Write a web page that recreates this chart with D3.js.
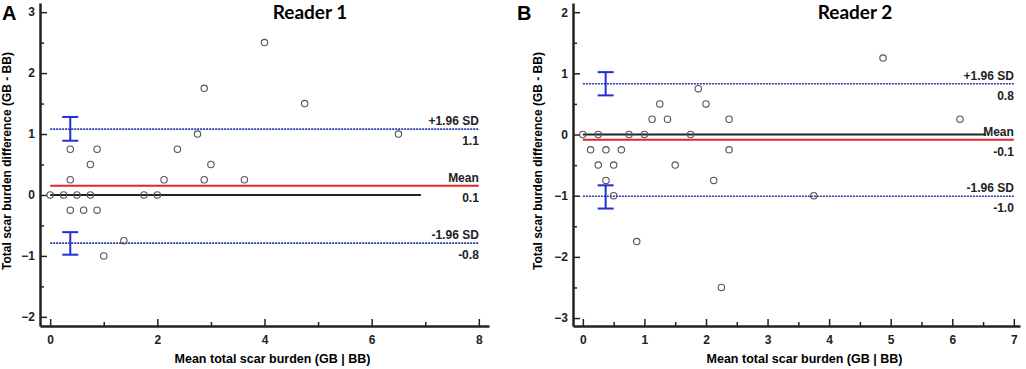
<!DOCTYPE html>
<html>
<head>
<meta charset="utf-8">
<script src="https://cdn.jsdelivr.net/npm/d3@7"></script>
<style>
  body { margin: 0; background: #fff; }
  svg { display: block; }
</style>
</head>
<body>
<svg id="chart" width="1026" height="369"></svg>
<script>
// reader 1 points (mean, difference)
const meanA = [0, 0.25, 0.5, 0.75, 1.75, 2, 0.375, 0.875, 0.75, 0.375, 2.125, 2.375, 2.75, 2.875, 2.875, 3, 3.625, 4, 4.75, 6.5, 0.375, 0.625, 0.875, 1.375, 1]
const diffA = [0, 0, 0, 0, 0, 0, 0.75, 0.75, 0.5, 0.25, 0.25, 0.75, 1, 1.75, 0.25, 0.5, 0.25, 2.5, 1.5, 1, -0.25, -0.25, -0.25, -0.75, -1]
// reader 2 points
const meanB = [0, 0.25, 0.75, 1, 1.75, 0.125, 0.375, 0.625, 0.25, 0.5, 0.375, 0.5, 1.125, 1.25, 1.375, 1.5, 1.875, 2, 2.125, 2.375, 2.375, 4.875, 6.125, 3.75, 0.875, 2.25]
const diffB = [0, 0, 0, 0, 0, -0.25, -0.25, -0.25, -0.5, -0.5, -0.75, -1, 0.25, 0.5, 0.25, -0.5, 0.75, 0.5, -0.75, 0.25, -0.25, 1.25, 0.25, -1, -1.75, -2.5]

// mean bias, +1.96 SD, -1.96 SD
const statsA = [0.15, 1.08, -0.79]
const statsB = [-0.085, 0.83, -1.01]
const statLabelsA = ['0.1', '1.1', '-0.8']
const statLabelsB = ['-0.1', '0.8', '-1.0']
// confidence intervals of the limits [upper limit ci, lower limit ci]
const ciA = [[0.89, 1.28], [-0.98, -0.61]]
const ciB = [[0.64, 1.02], [-1.21, -0.83]]

const xTicksA = [0, 2, 4, 6, 8]
const xMinorA = [1, 3, 5, 7]
const yTicksA = [-2, -1, 0, 1, 2, 3]
const xTicksB = [0, 1, 2, 3, 4, 5, 6, 7]
const xMinorB = [0.5, 1.5, 2.5, 3.5, 4.5, 5.5, 6.5]
const yTicksB = [-3, -2, -1, 0, 1, 2]

const FONT = '"Liberation Sans", Arimo, Arial, sans-serif'
const svg = d3.select('#chart')

function panel(cfg) {
  const x = d3.scaleLinear().domain(cfg.xDomain).range(cfg.xRange)
  const y = d3.scaleLinear().domain(cfg.yDomain).range([326, 3])
  const g = svg.append('g')
  const yMinor = d3.range(cfg.yDomain[0], cfg.yDomain[1], 0.5).map(v => Math.ceil(v * 2) / 2)
    .filter(v => !Number.isInteger(v))

  // minor ticks first
  g.append('g')
    .attr('transform', `translate(0,${y.range()[0]})`)
    .call(d3.axisBottom(x).tickValues(cfg.xMinor).tickSize(-4).tickFormat(''))
    .call(a => a.select('.domain').remove())
    .selectAll('line').attr('stroke', '#222').attr('stroke-width', 1.5)
  g.append('g')
    .attr('transform', `translate(${x.range()[0]},0)`)
    .call(d3.axisLeft(y).tickValues(yMinor).tickSize(-4).tickFormat(''))
    .call(a => a.select('.domain').remove())
    .selectAll('line').attr('stroke', '#222').attr('stroke-width', 1.5)

  const xa = g.append('g')
    .attr('transform', `translate(0,${y.range()[0]})`)
    .call(d3.axisBottom(x).tickValues(cfg.xTicks).tickFormat(d3.format('d'))
      .tickSize(-7).tickSizeOuter(0).tickPadding(9))
  const ya = g.append('g')
    .attr('transform', `translate(${x.range()[0]},0)`)
    .call(d3.axisLeft(y).tickValues(cfg.yTicks).tickFormat(d3.format('d'))
      .tickSize(-7).tickSizeOuter(0).tickPadding(5))
  for (const a of [xa, ya]) {
    a.attr('font-family', FONT).attr('font-size', 12).attr('font-weight', 'bold')
    a.select('.domain').attr('stroke', '#222').attr('stroke-width', 2.5)
    a.selectAll('line').attr('stroke', '#222').attr('stroke-width', 1.5)
    a.selectAll('text').attr('fill', '#222')
  }

  const xmax = cfg.xTicks[cfg.xTicks.length - 1]

  // zero line
  g.append('line')
    .attr('x1', x(0)).attr('x2', x(cfg.zeroEnd))
    .attr('y1', y(0)).attr('y2', y(0))
    .attr('stroke', '#222').attr('stroke-width', 2)

  // mean line
  g.append('line')
    .attr('x1', x(0)).attr('x2', x(xmax))
    .attr('y1', y(cfg.stats[0])).attr('y2', y(cfg.stats[0]))
    .attr('stroke', '#e3262b').attr('stroke-width', 2)

  // limits of agreement
  g.selectAll('.loa')
    .data(cfg.stats.slice(1))
    .join('line')
    .attr('x1', x(0)).attr('x2', x(xmax))
    .attr('y1', d => y(d)).attr('y2', d => y(d))
    .attr('stroke', '#2a3aa8').attr('stroke-width', 1.6)
    .attr('stroke-dasharray', '2,1')

  // ci bars
  const cx = x(cfg.ciX)
  const bars = g.selectAll('.ci').data(cfg.ci).join('g')
  bars.append('line')
    .attr('x1', cx).attr('x2', cx)
    .attr('y1', d => y(d[0])).attr('y2', d => y(d[1]))
  bars.selectAll('.cap').data(d => d).join('line')
    .attr('x1', cx - 8).attr('x2', cx + 8)
    .attr('y1', d => y(d)).attr('y2', d => y(d))
  bars.selectAll('line').attr('stroke', '#1f2fd6').attr('stroke-width', 2)

  // points
  g.selectAll('circle')
    .data(cfg.mean.map((m, i) => [m, cfg.diff[i]]))
    .join('circle')
    .attr('cx', d => x(d[0]))
    .attr('cy', d => y(d[1]))
    .attr('r', 3.2)
    .attr('fill', 'none')
    .attr('stroke', '#555')
    .attr('stroke-width', 1.1)

  // labels on the right
  const names = ['Mean', '+1.96 SD', '-1.96 SD']
  const lbl = g.append('g')
    .attr('font-family', FONT).attr('font-weight', 'bold')
    .attr('text-anchor', 'end').attr('font-size', 12).attr('fill', '#222')
  cfg.stats.forEach((s, i) => {
    lbl.append('text').attr('x', x(xmax)).attr('y', y(s) - 4).text(names[i])
    lbl.append('text').attr('x', x(xmax)).attr('y', y(s) + 16).text(cfg.statLabels[i])
  })

  // titles
  g.append('text')
    .attr('x', cfg.titleX).attr('y', 19)
    .attr('text-anchor', 'middle')
    .attr('font-family', 'Lato, "Open Sans", sans-serif')
    .attr('font-weight', 'bold').attr('font-size', 19)
    .text(cfg.title)
  g.append('text')
    .attr('x', cfg.letterX).attr('y', 20)
    .attr('font-family', FONT)
    .attr('font-weight', 'bold').attr('font-size', 20)
    .text(cfg.letter)
  g.append('text')
    .attr('x', (x.range()[0] + x.range()[1]) / 2 + 8).attr('y', 363)
    .attr('font-family', FONT).attr('font-weight', 'bold')
    .attr('text-anchor', 'middle').attr('font-size', 12.5)
    .text('Mean total scar burden (GB | BB)')
  g.append('text')
    .attr('transform', `translate(${cfg.yTitleX},161) rotate(-90)`)
    .attr('font-family', FONT).attr('font-weight', 'bold')
    .attr('text-anchor', 'middle').attr('font-size', 12)
    .text('Total scar burden difference (GB - BB)')
}

panel({
  mean: meanA, diff: diffA, stats: statsA, statLabels: statLabelsA, ci: ciA, ciX: 0.375,
  xDomain: [-0.19, 8.19], xRange: [40, 489], yDomain: [-2.15, 3.15],
  xTicks: xTicksA, xMinor: xMinorA, yTicks: yTicksA, zeroEnd: 6.92,
  title: 'Reader 1', titleX: 310, letter: 'A', letterX: 2, yTitleX: 11
})
panel({
  mean: meanB, diff: diffB, stats: statsB, statLabels: statLabelsB, ci: ciB, ciX: 0.37,
  xDomain: [-0.16, 7.1], xRange: [573, 1020], yDomain: [-3.13, 2.15],
  xTicks: xTicksB, xMinor: xMinorB, yTicks: yTicksB, zeroEnd: 6.55,
  title: 'Reader 2', titleX: 855, letter: 'B', letterX: 517, yTitleX: 542
})
</script>
</body>
</html>
